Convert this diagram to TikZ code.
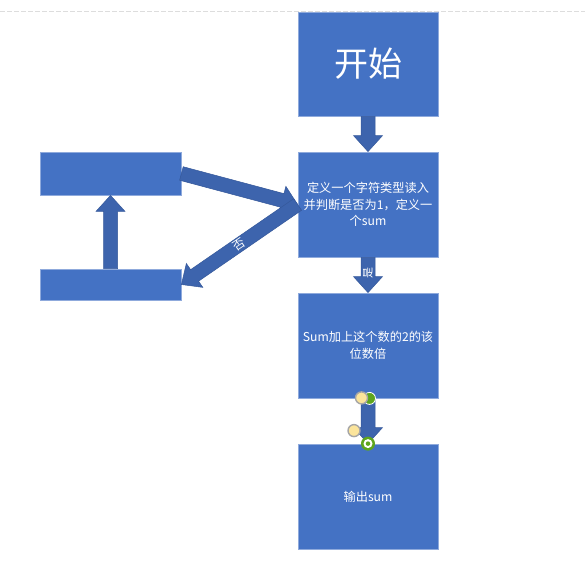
\documentclass[tikz,border=0pt]{standalone}
\usepackage{fontspec}
\newfontfamily\cjk{Noto Sans CJK SC}
\usetikzlibrary{calc}
\definecolor{boxblue}{HTML}{4472C4}
\definecolor{boxedge}{HTML}{8FAADC}
\definecolor{arrblue}{HTML}{3D64AD}
\definecolor{arredge}{HTML}{35589A}
\definecolor{hdlyellow}{HTML}{FBE49B}
\definecolor{hdlgray}{HTML}{A6A6A6}
\definecolor{hdlgreen}{HTML}{5EA51E}
\definecolor{topdash}{HTML}{DDDDDD}
\tikzset{
  box/.style={draw=boxedge, fill=boxblue, line width=0.8pt, minimum width=140pt,
    text=white, inner sep=0pt, align=center, font=\cjk\fontsize{12.2}{16.5}\selectfont},
  arrowshape/.style={fill=arrblue, draw=arredge, line width=0.5pt, line join=miter},
  arrlabel/.style={text=white, inner sep=0pt, font=\cjk\fontsize{11}{13}\selectfont},
  yhandle/.style={fill=hdlyellow, draw=hdlgray, line width=1.4pt},
}
\newcommand\blockarrow[2]{%
  \coordinate (ba-a) at (#1);
  \coordinate (ba-b) at (#2);
  \coordinate (ba-h) at ($(ba-b)!16pt!(ba-a)$);
  \draw[arrowshape] ($(ba-a)!7pt!90:(ba-b)$) -- ($(ba-h)!7pt!90:(ba-b)$)
    -- ($(ba-h)!14.5pt!90:(ba-b)$) -- (ba-b) -- ($(ba-h)!14.5pt!-90:(ba-b)$)
    -- ($(ba-h)!7pt!-90:(ba-b)$) -- ($(ba-a)!7pt!-90:(ba-b)$) -- cycle;}
\begin{document}
\begin{tikzpicture}[x=1pt,y=-1pt]
\useasboundingbox (0,0) rectangle (585,575);
\fill[white] (0,0) rectangle (585,575);
% top dashed guide
\coordinate (gl) at (0,11.5);
\coordinate (gr) at (585,11.5);
\draw[topdash, line width=0.8pt, dash pattern=on 5pt off 2pt] (gl) -- (gr);
% boxes
\node[box, minimum height=104pt, font=\cjk\fontsize{34}{40}\selectfont] (b1) at (368,64) {开始};
\node[box, minimum height=105pt] (b2) at (368,204.5) {定义一个字符类型读入\\并判断是否为1，定义一\\个sum};
\node[box, minimum height=105pt] (b3) at (368,345.5) {Sum加上这个数的2的该\\位数倍};
\node[box, minimum height=105pt] (b4) at (368,496.5) {输出sum};
\node[box, minimum width=141pt, minimum height=43pt] (tl) at (110.5,173.5) {};
\node[box, minimum width=141pt, minimum height=31pt] (bl) at (110.5,284.5) {};
% arrows
\blockarrow{b1.south}{b2.north}
\blockarrow{b2.south}{b3.north}
\blockarrow{b3.south}{b4.north}
\blockarrow{bl.north}{tl.south}
\blockarrow{tl.east}{b2.west}
\blockarrow{b2.west}{bl.east}
% labels
\node[arrlabel, rotate=90] (yes) at ($(b2.south)!0.45!(b3.north)$) {是};
\node[arrlabel, rotate=34, font=\cjk\fontsize{12}{14}\selectfont] (no) at ($(b2.west)!0.5!(bl.east)$) {否};
% selection handles
\coordinate (hb) at (b3.south);
\fill[hdlgreen, draw=white, line width=0.8pt] ($(hb)+(1.5,0)$) circle (6pt);
\draw[yhandle] ($(hb)+(-6.5,-0.5)$) circle (6pt);
\draw[yhandle] ($(b4.north)+(-14,-13)$) circle (6pt);
\fill[hdlgreen] (b4.north) circle (7pt);
\fill[white] (b4.north) circle (4.5pt);
\fill[hdlgreen] (b4.north) circle (2.3pt);
\end{tikzpicture}
\end{document}
